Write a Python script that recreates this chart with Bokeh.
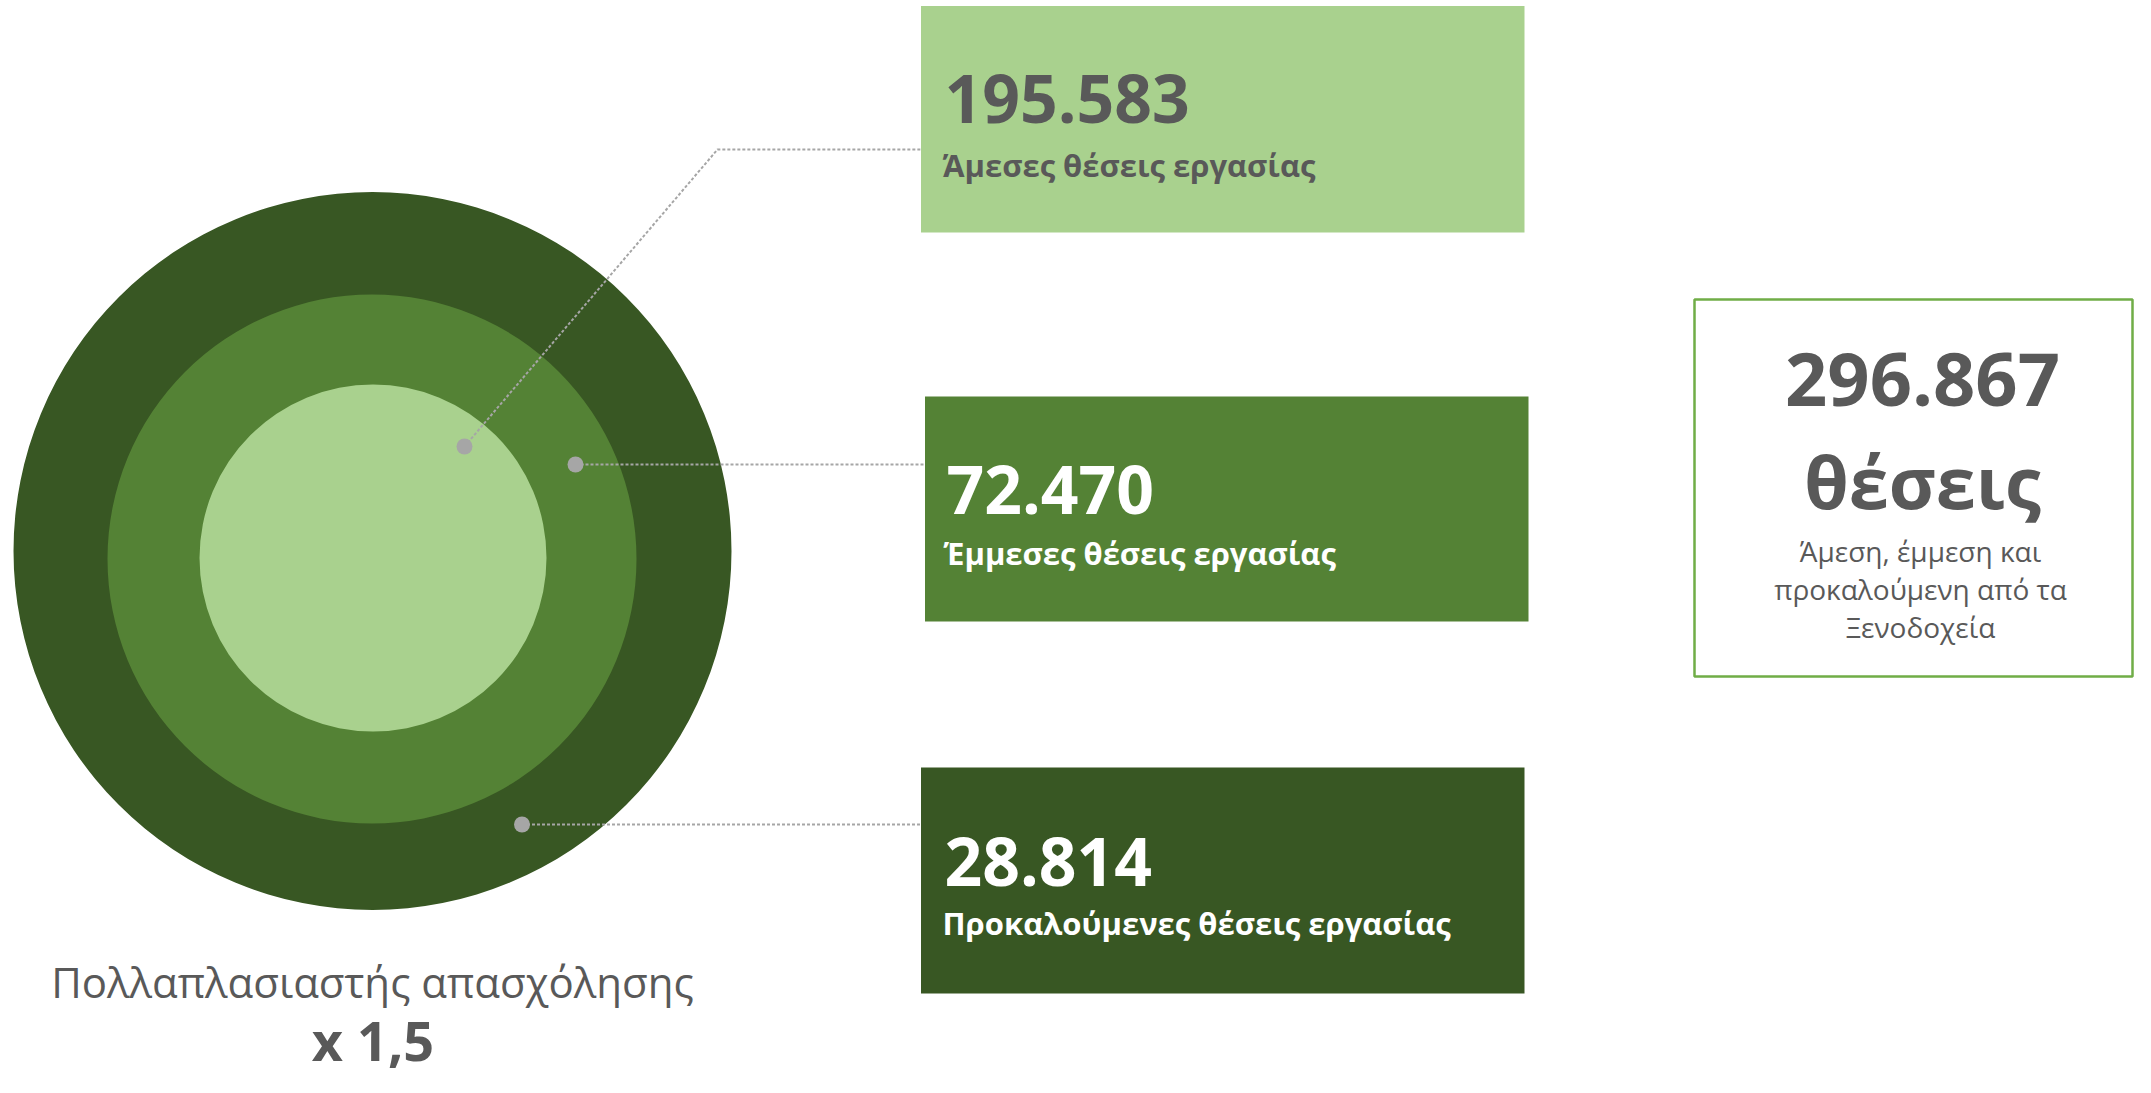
from bokeh.plotting import figure
from bokeh.models import Range1d
from bokeh.core.properties import value
from bokeh.embed import file_html
from bokeh.resources import INLINE

# ---------------- data ----------------
categories = ["Άμεσες θέσεις εργασίας", "Έμμεσες θέσεις εργασίας", "Προκαλούμενες θέσεις εργασίας"]
jobs = [195583, 72470, 28814]
total_jobs = 296867
total_unit = "θέσεις"
total_note = ["Άμεση, έμμεση και", "προκαλούμενη από τα", "Ξενοδοχεία"]
multiplier_title = "Πολλαπλασιαστής απασχόλησης"
multiplier = 1.5

def gr_int(v):
    return f"{v:,}".replace(",", ".")

# ---------------- layout / style ----------------
FONT = value("Open Sans")
GREY = "#595959"
cat_colors = ["#A9D18E", "#548235", "#385723"]
num_colors = [GREY, "white", "white"]
BASE_SHIFT = 0.36  # em; compensates the renderer's baseline placement

def by(ys, size):
    return [y - BASE_SHIFT * size for y in ys]

# concentric circles (outer -> inner drawn in order)
circ_x = [372, 371.5, 372.5]
circ_y = [550.5, 558.5, 557.5]
circ_r = [359, 264.5, 173.5]
circ_col = [cat_colors[2], cat_colors[1], cat_colors[0]]

# boxes
box_l = [920.5, 924.5, 920.5]
box_r = [1524, 1528, 1524]
box_t = [5.5, 396, 767]
box_b = [232, 621, 993]
num_x = [944, 946, 944]
num_y = [122, 513, 885]
lab_x = [942, 943, 942]
lab_y = [176, 564, 934]

# leader dots / lines
dot_x = [464, 575, 521.5]
dot_y = [446, 464, 824]
lead_xs = [[464, 717, 920], [575, 924], [521.5, 920]]
lead_ys = [[446, 149, 149], [464, 464], [824, 824]]

W, H = 2135, 1077
p = figure(width=W, height=H, x_range=Range1d(0, W), y_range=Range1d(H, 0),
           output_backend="svg", toolbar_location=None, tools="", min_border=0)
p.xaxis.visible = False
p.yaxis.visible = False
p.xgrid.visible = False
p.ygrid.visible = False
p.outline_line_color = None
p.background_fill_color = "white"
p.border_fill_color = "white"

# circles
p.circle(x=circ_x, y=circ_y, radius=circ_r, fill_color=circ_col, line_color=None)

# boxes
p.quad(left=box_l, right=box_r, top=box_t, bottom=box_b, fill_color=cat_colors, line_color=None)

# leader lines and dots
p.multi_line(xs=lead_xs, ys=lead_ys, line_color="#A6A6A6", line_width=2, line_dash="3 2")
p.circle(x=dot_x, y=dot_y, radius=8, fill_color="#A6A6A6", line_color=None)

# box texts
p.text(x=num_x, y=by(num_y, 66), text=[gr_int(v) for v in jobs], text_font=FONT,
       text_font_style="bold", text_font_size="66px", text_color=num_colors,
       text_baseline="alphabetic", text_align="left")
p.text(x=lab_x, y=by(lab_y, 31), text=categories, text_font=FONT, text_font_style="bold",
       text_font_size="31px", text_color=num_colors, text_baseline="alphabetic", text_align="left")

# total box
p.quad(left=[1694], right=[2132], top=[299], bottom=[676], fill_color="white",
       line_color="#70AD47", line_width=2.5)
p.text(x=[1922], y=by([406], 74), text=[gr_int(total_jobs)], text_font=FONT,
       text_font_style="bold", text_font_size="74px", text_color=GREY,
       text_baseline="alphabetic", text_align="center")
p.text(x=[1922], y=by([506], 72), text=[total_unit], text_font=FONT,
       text_font_style="bold", text_font_size="72px", text_color=GREY,
       text_baseline="alphabetic", text_align="center")
p.text(x=[1920, 1920, 1920], y=by([561, 599, 637], 28), text=total_note, text_font=FONT,
       text_font_size="28px", text_color=GREY, text_baseline="alphabetic", text_align="center")

# multiplier
p.text(x=[372], y=by([996], 42), text=[multiplier_title], text_font=FONT, text_font_size="42px",
       text_color=GREY, text_baseline="alphabetic", text_align="center")
p.text(x=[372.5], y=by([1059], 54), text=["x " + str(multiplier).replace(".", ",")], text_font=FONT,
       text_font_style="bold", text_font_size="54px", text_color=GREY,
       text_baseline="alphabetic", text_align="center")

open("out.html", "w").write(file_html(p, INLINE))
